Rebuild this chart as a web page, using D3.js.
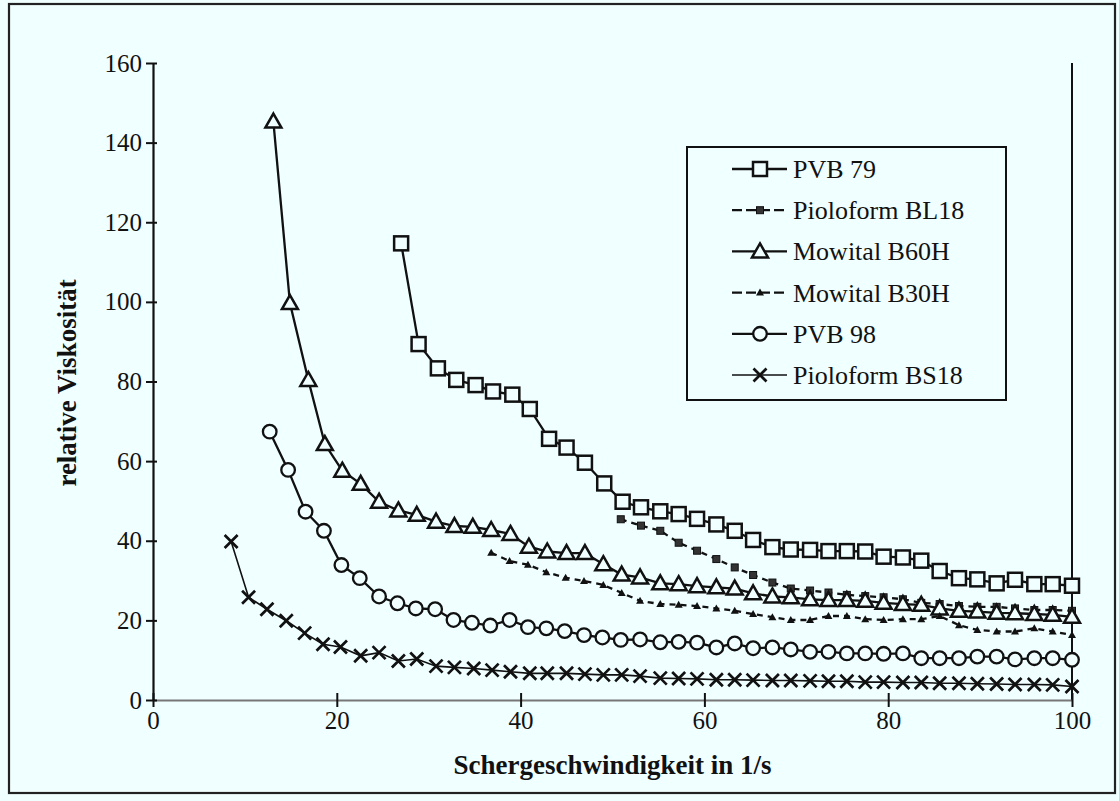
<!DOCTYPE html>
<html>
<head>
<meta charset="utf-8">
<script src="https://cdn.jsdelivr.net/npm/d3@7"></script>
<style>
  html, body { margin: 0; padding: 0; background: #f0ffff; }
  svg { display: block; }
  text { font-family: "Liberation Serif", "Times New Roman", serif; fill: #111; }
</style>
</head>
<body>
<svg id="chart" width="1119" height="801"></svg>
<script>
// Shear rate (1/s) sample points for each run
const xPVB79 = [27.0, 28.9, 31.0, 33.0, 35.1, 37.0, 39.1, 41.0, 43.1, 45.0, 47.0, 49.1, 51.1, 53.1, 55.2, 57.2, 59.2, 61.3, 63.3, 65.3, 67.4, 69.4, 71.5, 73.5, 75.5, 77.5, 79.5, 81.6, 83.6, 85.6, 87.7, 89.7, 91.8, 93.8, 95.9, 97.9, 100];
const yPVB79 = [114.7, 89.4, 83.3, 80.4, 79.1, 77.5, 76.7, 73.1, 65.6, 63.4, 59.6, 54.4, 49.8, 48.4, 47.4, 46.7, 45.5, 44.1, 42.5, 40.2, 38.4, 37.8, 37.7, 37.4, 37.4, 37.3, 36.0, 35.8, 35.0, 32.4, 30.6, 30.3, 29.3, 30.2, 29.1, 29.1, 28.7];

const xBL18 = [50.9, 53.1, 55.2, 57.2, 59.2, 61.3, 63.3, 65.3, 67.4, 69.4, 71.5, 73.5, 75.5, 77.5, 79.5, 81.6, 83.6, 85.6, 87.7, 89.7, 91.8, 93.8, 95.9, 97.9, 100];
const yBL18 = [45.4, 43.8, 42.5, 39.5, 37.5, 35.4, 33.3, 31.4, 29.5, 28.0, 27.5, 27.0, 26.4, 26.1, 25.8, 25.3, 24.4, 24.1, 23.6, 23.4, 23.4, 23.0, 22.6, 22.6, 22.4];

const xB60H = [13.1, 14.9, 16.9, 18.7, 20.6, 22.6, 24.6, 26.7, 28.7, 30.8, 32.8, 34.8, 36.8, 38.9, 40.9, 42.9, 45.0, 47.0, 49.0, 51.0, 53.0, 55.2, 57.2, 59.2, 61.3, 63.3, 65.3, 67.4, 69.4, 71.5, 73.5, 75.5, 77.5, 79.5, 81.6, 83.6, 85.6, 87.7, 89.7, 91.8, 93.8, 95.9, 97.9, 100];
const yB60H = [145.3, 99.7, 80.4, 64.3, 57.6, 54.3, 49.8, 47.6, 46.5, 44.8, 43.7, 43.5, 42.7, 41.7, 38.5, 37.3, 36.9, 36.9, 34.1, 31.5, 30.8, 29.3, 29.1, 28.6, 28.3, 28.0, 26.8, 26.0, 25.8, 25.3, 25.1, 25.1, 24.9, 24.4, 24.1, 23.9, 23.0, 22.4, 22.2, 21.9, 21.8, 21.6, 21.4, 20.9];

const xB30H = [36.8, 38.8, 40.8, 42.8, 44.9, 46.9, 49.0, 51.0, 53.0, 55.2, 57.2, 59.2, 61.3, 63.3, 65.3, 67.4, 69.4, 71.5, 73.5, 75.5, 77.5, 79.5, 81.6, 83.6, 85.6, 87.7, 89.7, 91.8, 93.8, 95.9, 97.9, 100];
const yB30H = [37.0, 34.9, 34.0, 32.1, 30.7, 29.9, 28.9, 26.9, 24.9, 24.1, 23.9, 23.6, 23.0, 22.4, 21.6, 20.8, 20.1, 20.1, 21.1, 21.1, 20.3, 20.1, 20.3, 20.3, 21.1, 18.8, 17.6, 17.2, 17.2, 18.0, 17.2, 16.3];

const xPVB98 = [12.7, 14.7, 16.6, 18.6, 20.5, 22.5, 24.6, 26.6, 28.6, 30.7, 32.7, 34.7, 36.7, 38.8, 40.8, 42.8, 44.8, 46.9, 48.9, 50.9, 53.0, 55.2, 57.2, 59.2, 61.3, 63.3, 65.3, 67.4, 69.4, 71.5, 73.5, 75.5, 77.5, 79.5, 81.6, 83.6, 85.6, 87.7, 89.7, 91.8, 93.8, 95.9, 97.9, 100];
const yPVB98 = [67.4, 57.8, 47.3, 42.5, 33.9, 30.6, 26.0, 24.3, 23.0, 22.8, 20.1, 19.4, 18.7, 20.1, 18.3, 18.0, 17.3, 16.3, 15.7, 15.1, 15.2, 14.5, 14.6, 14.4, 13.2, 14.2, 13.0, 13.2, 12.7, 12.1, 12.1, 11.7, 11.7, 11.6, 11.7, 10.5, 10.5, 10.5, 10.9, 10.9, 10.2, 10.5, 10.5, 10.1];

const xBS18 = [8.5, 10.4, 12.4, 14.5, 16.5, 18.5, 20.4, 22.6, 24.6, 26.7, 28.7, 30.8, 32.8, 34.9, 36.9, 38.9, 41.0, 42.9, 45.0, 47.0, 49.0, 51.0, 53.0, 55.2, 57.2, 59.2, 61.3, 63.3, 65.3, 67.4, 69.4, 71.5, 73.5, 75.5, 77.5, 79.5, 81.6, 83.6, 85.6, 87.7, 89.7, 91.8, 93.8, 95.9, 97.9, 100];
const yBS18 = [39.8, 25.8, 22.8, 19.9, 16.8, 14.0, 13.3, 11.1, 11.9, 9.8, 10.3, 8.5, 8.2, 7.9, 7.5, 7.1, 6.7, 6.7, 6.7, 6.5, 6.3, 6.3, 6.0, 5.5, 5.4, 5.3, 5.1, 5.1, 5.0, 4.9, 4.9, 4.8, 4.7, 4.7, 4.5, 4.5, 4.4, 4.4, 4.2, 4.2, 4.1, 4.0, 3.9, 3.9, 3.8, 3.4];

const seriesNames = ["PVB 79", "Pioloform BL18", "Mowital B60H", "Mowital B30H", "PVB 98", "Pioloform BS18"];
const xTicks = [0, 20, 40, 60, 80, 100];
const yTicks = [0, 20, 40, 60, 80, 100, 120, 140, 160];
const xTitle = "Schergeschwindigkeit in 1/s";
const yTitle = "relative Viskosität";

const series = [
  { name: seriesNames[0], xs: xPVB79, ys: yPVB79, marker: "openSquare", dash: null, width: 2.3 },
  { name: seriesNames[1], xs: xBL18, ys: yBL18, marker: "smallSquare", dash: "6,5", width: 2.3 },
  { name: seriesNames[2], xs: xB60H, ys: yB60H, marker: "openTriangle", dash: null, width: 2.3 },
  { name: seriesNames[3], xs: xB30H, ys: yB30H, marker: "smallTriangle", dash: "6,5", width: 2.3 },
  { name: seriesNames[4], xs: xPVB98, ys: yPVB98, marker: "openCircle", dash: null, width: 2.3 },
  { name: seriesNames[5], xs: xBS18, ys: yBS18, marker: "cross", dash: null, width: 1.6 }
];

const svg = d3.select("#chart");
const W = 1119, H = 801;
const bg = "#f0ffff";

// Outer chart frame
svg.append("rect").attr("x", 0).attr("y", 0).attr("width", W).attr("height", H).attr("fill", bg);
svg.append("rect")
  .attr("x", 9).attr("y", 4).attr("width", 1106).attr("height", 789)
  .attr("fill", "none").attr("stroke", "#222").attr("stroke-width", 2.2);

const plot = { left: 153, right: 1072, top: 63, bottom: 700 };
const x = d3.scaleLinear().domain([0, 100]).range([plot.left, plot.right]);
const y = d3.scaleLinear().domain([0, 160]).range([plot.bottom, plot.top]);

// Right border of the plot area
svg.append("line")
  .attr("x1", plot.right).attr("x2", plot.right)
  .attr("y1", plot.top).attr("y2", plot.bottom)
  .attr("stroke", "#111").attr("stroke-width", 2);

// Axes with ticks crossing the axis line
const xAxis = d3.axisBottom(x).tickValues(xTicks).tickSizeInner(0).tickSizeOuter(0).tickPadding(11);
const gx = svg.append("g").attr("transform", `translate(0,${plot.bottom})`).call(xAxis);
gx.select(".domain").attr("stroke", "#777").attr("stroke-width", 2);
gx.selectAll(".tick line").attr("y1", -7).attr("y2", 7).attr("stroke", "#111").attr("stroke-width", 2);
gx.selectAll(".tick text").attr("font-size", 25).attr("font-family", "Liberation Serif").attr("fill", "#111");

const yAxis = d3.axisLeft(y).tickValues(yTicks).tickSizeInner(0).tickSizeOuter(0).tickPadding(11);
const gy = svg.append("g").attr("transform", `translate(${plot.left},0)`).call(yAxis);
gy.select(".domain").attr("stroke", "#111").attr("stroke-width", 2.2);
gy.selectAll(".tick line").attr("x1", -7).attr("x2", 4).attr("stroke", "#111").attr("stroke-width", 2);
gy.selectAll(".tick text").attr("font-size", 25).attr("font-family", "Liberation Serif").attr("fill", "#111");

// Axis titles
svg.append("text")
  .attr("x", (plot.left + plot.right) / 2).attr("y", 774)
  .attr("text-anchor", "middle").attr("font-size", 27).attr("font-weight", "bold")
  .text(xTitle);
svg.append("text")
  .attr("transform", `translate(76,383) rotate(-90)`)
  .attr("text-anchor", "middle").attr("font-size", 27).attr("font-weight", "bold")
  .text(yTitle);

// Marker drawing helper
function drawMarker(g, type, cx, cy) {
  const ink = "#111";
  switch (type) {
    case "openSquare":
      g.append("rect").attr("x", cx - 7).attr("y", cy - 7).attr("width", 14).attr("height", 14)
        .attr("fill", bg).attr("stroke", ink).attr("stroke-width", 2.5);
      break;
    case "smallSquare":
      g.append("rect").attr("x", cx - 3.5).attr("y", cy - 3.5).attr("width", 7).attr("height", 7)
        .attr("fill", "#333").attr("stroke", ink).attr("stroke-width", 1);
      break;
    case "openTriangle":
      g.append("path").attr("d", `M${cx},${cy - 8}L${cx + 8},${cy + 6}L${cx - 8},${cy + 6}Z`)
        .attr("fill", bg).attr("stroke", ink).attr("stroke-width", 2.5).attr("stroke-linejoin", "miter");
      break;
    case "smallTriangle":
      g.append("path").attr("d", `M${cx},${cy - 4}L${cx + 4},${cy + 3}L${cx - 4},${cy + 3}Z`)
        .attr("fill", ink);
      break;
    case "openCircle":
      g.append("circle").attr("cx", cx).attr("cy", cy).attr("r", 6.8)
        .attr("fill", bg).attr("stroke", ink).attr("stroke-width", 2.3);
      break;
    case "cross":
      g.append("path").attr("d", `M${cx - 6.5},${cy - 6.5}L${cx + 6.5},${cy + 6.5}M${cx - 6.5},${cy + 6.5}L${cx + 6.5},${cy - 6.5}`)
        .attr("stroke", ink).attr("stroke-width", 2.7).attr("fill", "none");
      break;
  }
}

const lineGen = d3.line().x(d => x(d[0])).y(d => y(d[1]));

// Series lines first, then markers above them
series.forEach(s => {
  const pts = s.xs.map((v, i) => [v, s.ys[i]]);
  svg.append("path").datum(pts)
    .attr("d", lineGen)
    .attr("fill", "none").attr("stroke", "#111")
    .attr("stroke-width", s.width)
    .attr("stroke-dasharray", s.dash);
});
series.forEach(s => {
  const g = svg.append("g");
  s.xs.forEach((v, i) => drawMarker(g, s.marker, x(v), y(s.ys[i])));
});

// Legend
const legend = { left: 687, top: 147, width: 319, height: 253 };
svg.append("rect")
  .attr("x", legend.left).attr("y", legend.top).attr("width", legend.width).attr("height", legend.height)
  .attr("fill", bg).attr("stroke", "#111").attr("stroke-width", 2);
series.forEach((s, i) => {
  const cy = 169 + i * 41.2;
  const g = svg.append("g");
  g.append("line").attr("x1", 732).attr("x2", 787).attr("y1", cy).attr("y2", cy)
    .attr("stroke", "#111").attr("stroke-width", s.width).attr("stroke-dasharray", s.dash ? "10,4" : null);
  drawMarker(g, s.marker, 760, cy);
  g.append("text").attr("x", 793).attr("y", cy + 9).attr("font-size", 26).text(s.name);
});
</script>
</body>
</html>
